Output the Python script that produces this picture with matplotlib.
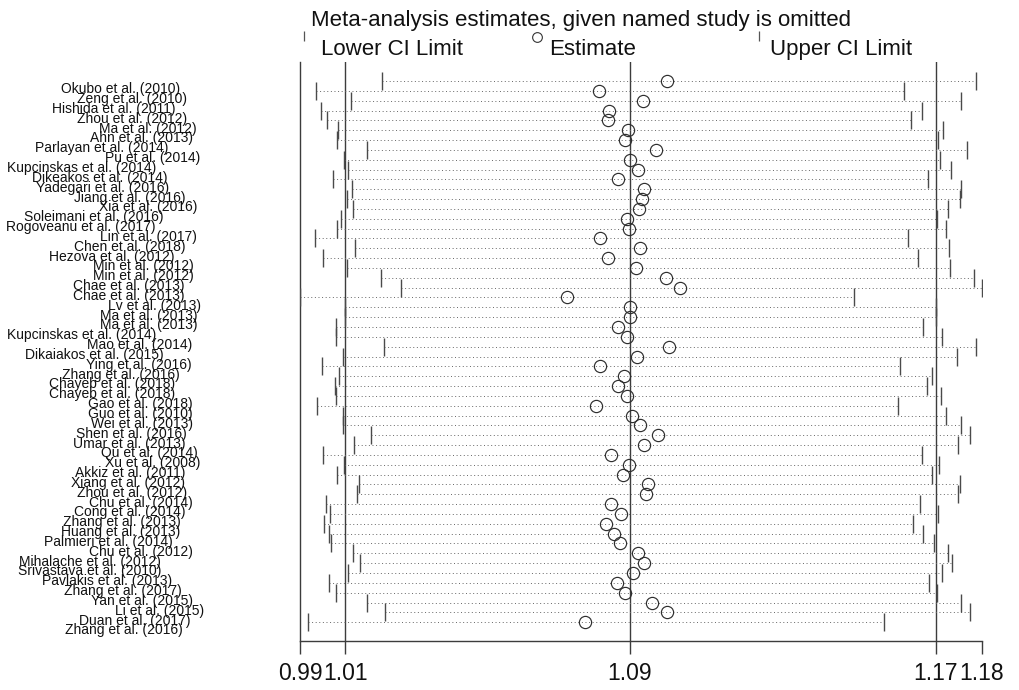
import matplotlib
matplotlib.use("Agg")
import matplotlib.pyplot as plt
import matplotlib.transforms as mtransforms
import numpy as np

# ---------------- data ----------------
studies = [
    "Okubo et al. (2010)", "Zeng et al. (2010)", "Hishida et al. (2011)", "Zhou et al. (2012)",
    "Ma et al. (2012)", "Ahn et al. (2013)", "Parlayan et al. (2014)", "Pu et al. (2014)",
    "Kupcinskas et al. (2014)", "Dikeakos et al. (2014)", "Yadegari et al. (2016)", "Jiang et al. (2016)",
    "Xia et al. (2016)", "Soleimani et al. (2016)", "Rogoveanu et al. (2017)", "Lin et al. (2017)",
    "Chen et al. (2018)", "Hezova et al. (2012)", "Min et al. (2012)", "Min et al. (2012)",
    "Chae et al. (2013)", "Chae et al. (2013)", "Lv et al. (2013)", "Ma et al. (2013)",
    "Ma et al. (2013)", "Kupcinskas et al. (2014)", "Mao et al. (2014)", "Dikaiakos et al. (2015)",
    "Ying et al. (2016)", "Zhang et al. (2016)", "Chayeb et al. (2018)", "Chayeb et al. (2018)",
    "Gao et al. (2018)", "Guo et al. (2010)", "Wei et al. (2013)", "Shen et al. (2016)",
    "Umar et al. (2013)", "Qu et al. (2014)", "Xu et al. (2008)", "Akkiz et al. (2011)",
    "Xiang et al. (2012)", "Zhou et al. (2012)", "Chu et al. (2014)", "Cong et al. (2014)",
    "Zhang et al. (2013)", "Huang et al. (2013)", "Palmieri et al. (2014)", "Chu et al. (2012)",
    "Mihalache et al. (2012)", "Srivastava et al. (2010)", "Pavlakis et al. (2013)", "Zhang et al. (2017)",
    "Yan et al. (2015)", "Li et al. (2015)", "Duan et al. (2017)", "Zhang et al. (2016)",
]

lower = [
    1.0172, 0.9989, 1.0086, 1.0002, 1.0020, 1.0051, 1.0049, 1.0132,
    1.0068, 1.0079, 1.0037, 1.0089, 1.0075, 1.0093, 1.0060, 1.0047,
    0.9988, 1.0097, 1.0008, 1.0076, 1.0170, 1.0224, 0.9945, 1.0071,
    1.0071, 1.0044, 1.0046, 1.0179, 1.0064, 1.0006, 1.0053, 1.0041,
    1.0044, 0.9991, 1.0064, 1.0064, 1.0141, 1.0096, 1.0010, 1.0066,
    1.0047, 1.0110, 1.0102, 1.0016, 1.0027, 1.0011, 1.0026, 1.0031,
    1.0091, 1.0111, 1.0078, 1.0026, 1.0046, 1.0130, 1.0182, 0.9968,
]

estimate = [
    1.0965, 1.0775, 1.0897, 1.0803, 1.0800, 1.0856, 1.0848, 1.0932,
    1.0862, 1.0882, 1.0829, 1.0899, 1.0893, 1.0885, 1.0854, 1.0857,
    1.0777, 1.0889, 1.0801, 1.0879, 1.0960, 1.0999, 1.0686, 1.0860,
    1.0860, 1.0829, 1.0853, 1.0968, 1.0880, 1.0778, 1.0843, 1.0829,
    1.0852, 1.0766, 1.0866, 1.0889, 1.0939, 1.0900, 1.0808, 1.0858,
    1.0841, 1.0911, 1.0904, 1.0808, 1.0837, 1.0795, 1.0816, 1.0834,
    1.0884, 1.0900, 1.0870, 1.0825, 1.0847, 1.0923, 1.0963, 1.0737,
]

upper = [
    1.1820, 1.1621, 1.1779, 1.1671, 1.1641, 1.1729, 1.1716, 1.1795,
    1.1722, 1.1751, 1.1687, 1.1781, 1.1778, 1.1743, 1.1712, 1.1737,
    1.1632, 1.1747, 1.1659, 1.1749, 1.1816, 1.1838, 1.1483, 1.1710,
    1.1710, 1.1675, 1.1726, 1.1820, 1.1768, 1.1611, 1.1699, 1.1684,
    1.1724, 1.1605, 1.1739, 1.1781, 1.1804, 1.1772, 1.1671, 1.1718,
    1.1699, 1.1778, 1.1772, 1.1666, 1.1715, 1.1646, 1.1673, 1.1704,
    1.1744, 1.1754, 1.1727, 1.1691, 1.1713, 1.1781, 1.1804, 1.1565,
]

overall_lower = 1.0071
overall_est = 1.0860
overall_upper = 1.1710

title_text = "Meta-analysis estimates, given named study is omitted"
legend_labels = ["Lower CI Limit", "Estimate", "Upper CI Limit"]

# ---------------- layout (pixels, styling only) ----------------
W, H = 1020, 690
label_right_px = [
    180, 187, 176, 187, 197, 193, 168, 200, 156, 168, 169, 186, 197, 164,
    156, 197, 186, 175, 194, 194, 185, 185, 201, 197, 197, 156, 192, 164,
    192, 180, 175, 175, 193, 193, 193, 187, 186, 198, 200, 185, 185, 187,
    193, 186, 181, 180, 173, 193, 161, 161, 172, 182, 193, 204, 191, 183,
]

fig = plt.figure(figsize=(W / 100, H / 100), dpi=100)
fig.patch.set_facecolor("white")

ax_left, ax_right = 300, 982
ax_top, ax_bot = 61.5, 640.7
ax = fig.add_axes([ax_left / W, 1 - ax_bot / H, (ax_right - ax_left) / W, (ax_bot - ax_top) / H])

n = len(studies)
rows = np.arange(n)
row_px = 9.84
first_row_px = 81.0

xmin = min(lower)
xmax = max(upper)
ax.set_xlim(xmin, xmax)
ax.set_ylim(n - 1 + (ax_bot - (first_row_px + row_px * (n - 1))) / row_px,
            -(first_row_px - ax_top) / row_px)

line_col = "#3c3c3c"
ax.axvline(overall_lower, color=line_col, lw=1.0, zorder=1)
ax.axvline(overall_est, color=line_col, lw=1.0, zorder=1)
ax.axvline(overall_upper, color=line_col, lw=1.0, zorder=1)

for i in range(n):
    ax.plot([lower[i], upper[i]], [rows[i], rows[i]], color="#666666", lw=0.7,
            linestyle=(0, (1, 2.7)), zorder=2, solid_capstyle="butt")

ax.plot(lower, rows, linestyle="none", marker="|", markersize=12.5,
        markeredgewidth=1.0, color="#4a4a4a", zorder=3)
ax.plot(upper, rows, linestyle="none", marker="|", markersize=12.5,
        markeredgewidth=1.0, color="#4a4a4a", zorder=3)
ax.plot(estimate, rows, linestyle="none", marker="o", markersize=8.8,
        markerfacecolor="none", markeredgewidth=0.85, markeredgecolor="#2e2e2e", zorder=4)

for s in ["top", "right"]:
    ax.spines[s].set_visible(False)
for s in ["left", "bottom"]:
    ax.spines[s].set_color(line_col)
    ax.spines[s].set_linewidth(1.0)
ax.set_yticks([])
ticks = [xmin, overall_lower, overall_est, overall_upper, xmax]
ax.set_xticks(ticks)
ax.set_xticklabels([f"{t:.2f}" for t in ticks])
ax.tick_params(axis="x", direction="out", length=9.2, width=1.0, color=line_col, pad=6,
               labelsize=16.5)
for lab in ax.get_xticklabels():
    lab.set_family("Liberation Sans")
    lab.set_color("#111111")

# study labels (x in figure coords, y in data coords)
trans = mtransforms.blended_transform_factory(fig.transFigure, ax.transData)
for i in range(n):
    ax.text(label_right_px[i] / W, rows[i] + 0.84, studies[i], transform=trans,
            ha="right", va="center", fontsize=10, family="Liberation Sans",
            color="#111111", clip_on=False)

# title and legend
fig.text(311 / W, 1 - 26 / H, title_text, ha="left", va="baseline",
         fontsize=16, family="Liberation Sans", color="#111111")
leg_x_text = [321, 549.5, 770]
leg_x_mark = [304, 536.6, 759]
for k in range(3):
    fig.text(leg_x_text[k] / W, 1 - 55 / H, legend_labels[k], ha="left", va="baseline",
             fontsize=16, family="Liberation Sans", color="#111111")
mark_ax = fig.add_axes([0, 0, 1, 1], facecolor="none")
mark_ax.set_xlim(0, W)
mark_ax.set_ylim(H, 0)
mark_ax.axis("off")
mark_ax.plot([leg_x_mark[0], leg_x_mark[2]], [35.5, 35.5], linestyle="none", marker="|",
             markersize=6.5, markeredgewidth=0.9, color="#555555")
mark_ax.plot([leg_x_mark[1]], [36.5], linestyle="none", marker="o", markersize=7,
             markerfacecolor="none", markeredgewidth=0.8, markeredgecolor="#333333")

fig.savefig("out.png", dpi=100, facecolor="white")
